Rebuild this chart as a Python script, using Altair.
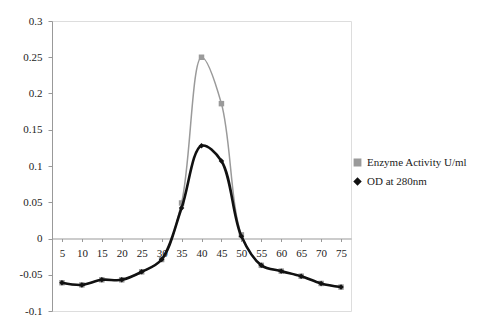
import altair as alt
import pandas as pd

fractions = [5, 10, 15, 20, 25, 30, 35, 40, 45, 50, 55, 60, 65, 70, 75]
enzyme = [-0.061, -0.064, -0.057, -0.057, -0.046, -0.029, 0.049, 0.25, 0.186, 0.005,
          -0.037, -0.045, -0.052, -0.062, -0.067]
od = [-0.061, -0.064, -0.057, -0.057, -0.046, -0.029, 0.042, 0.128, 0.107, 0.003,
      -0.037, -0.045, -0.052, -0.062, -0.067]
series_names = ["Enzyme Activity U/ml", "OD at 280nm"]
y_ticks = [0.3, 0.25, 0.2, 0.15, 0.1, 0.05, 0, -0.05, -0.1]

rows = []
for f, e, o in zip(fractions, enzyme, od):
    rows.append({"fraction": f, "value": e, "series": series_names[0]})
    rows.append({"fraction": f, "value": o, "series": series_names[1]})
df = pd.DataFrame(rows)

FONT = "Liberation Serif"
H = 290
zero_off = -(H - (0.3 / 0.4) * H)

x = alt.X("fraction:Q", scale=alt.Scale(domain=[2.5, 77.5], nice=False, zero=False),
          axis=alt.Axis(values=fractions, title=None, grid=False, offset=zero_off,
                        labelFont=FONT, labelFontSize=11, labelColor="#222",
                        labelPadding=6, tickSize=3, tickColor="#999",
                        domainColor="#999", labelFlush=False))
y = alt.Y("value:Q", scale=alt.Scale(domain=[-0.1, 0.3], nice=False),
          axis=alt.Axis(values=y_ticks, title=None, grid=False,
                        labelExpr="'' + round(datum.value*100)/100",
                        labelFont=FONT, labelFontSize=11, labelColor="#222",
                        tickSize=4, tickColor="#999", domainColor="#999",
                        labelPadding=6))

legend = alt.Legend(title=None, orient="none", legendX=300, legendY=136)
color = alt.Color("series:N", scale=alt.Scale(domain=series_names, range=["#9a9a9a", "#111111"]),
                  legend=legend)
shape = alt.Shape("series:N", scale=alt.Scale(domain=series_names, range=["square", "diamond"]),
                  legend=legend)

enz = df[df.series == series_names[0]]
odd = df[df.series == series_names[1]]

line_e = alt.Chart(enz).mark_line(interpolate="catmull-rom", strokeWidth=1.5).encode(
    x=x, y=y, color=color)
pts_e = alt.Chart(enz).mark_point(filled=True, size=30, opacity=1).encode(
    x=x, y=y, color=color, shape=shape)
line_o = alt.Chart(odd).mark_line(interpolate="catmull-rom", strokeWidth=2.6).encode(
    x=x, y=y, color=color)
pts_o = alt.Chart(odd).mark_point(filled=True, size=30, opacity=1).encode(
    x=x, y=y, color=color, shape=shape)

chart = alt.layer(line_e, pts_e, line_o, pts_o).properties(
    width=299, height=H,
    autosize=alt.AutoSizeParams(type="none"),
    padding={"left": 44, "top": 13, "right": 123, "bottom": 5},
).configure_view(stroke=None).configure(background="white").configure_legend(
    labelFont=FONT, labelFontSize=11, labelColor="#222", labelFontWeight="normal",
    symbolSize=40, rowPadding=6, symbolStrokeWidth=1.5,
)

chart.save("out.html", embed_options={"renderer": "svg", "actions": False})
